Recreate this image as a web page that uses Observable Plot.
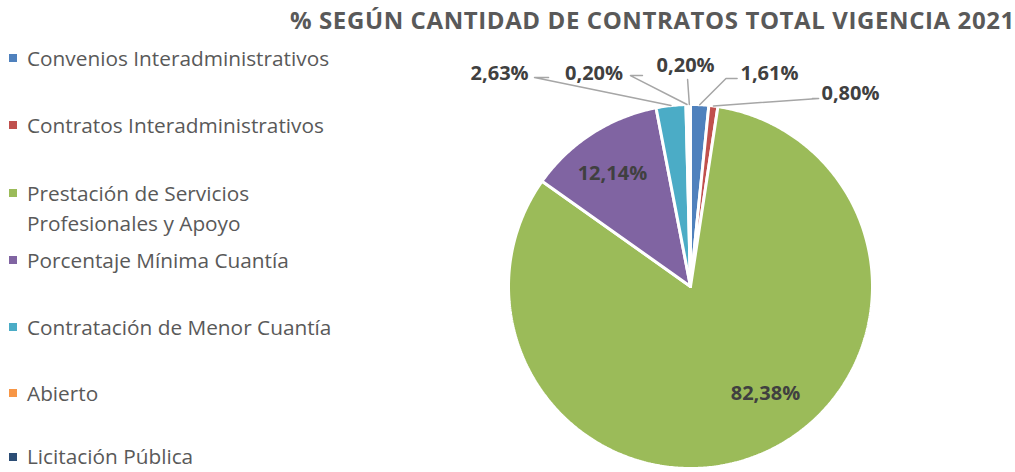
<!DOCTYPE html>
<html>
<head>
<meta charset="utf-8">
<script src="https://cdn.jsdelivr.net/npm/d3@7"></script>
<script src="https://cdn.jsdelivr.net/npm/@observablehq/plot@0.6"></script>
<style>
  html, body { margin: 0; padding: 0; background: #fff; }
  #wrap { position: relative; width: 1015px; height: 472px; overflow: hidden; font-family: "Open Sans", sans-serif; }
  #chart { position: absolute; left: 0; top: 0; }
  #title { position: absolute; left: 290px; top: 2px; font-weight: 700; font-size: 24px; color: #595959; white-space: nowrap; letter-spacing: 0.6px; line-height: 36px; }
  .leg { position: absolute; left: 9px; font-size: 20.8px; color: #595959; line-height: 30px; }
  .leg .sw { position: absolute; left: 0; top: 11px; width: 8px; height: 8px; }
  .leg .tx { margin-left: 18px; display: block; white-space: nowrap; }
  .leg.last { line-height: 22px; }
  .leg.last .sw { top: 8px; }
</style>
</head>
<body>
<div id="wrap">
  <div id="chart"></div>
  <div id="title">% SEGÚN CANTIDAD DE CONTRATOS TOTAL VIGENCIA 2021</div>
  <div id="legend"></div>
</div>
<script>
// ---- data ----
const categories = [
  "Convenios Interadministrativos",
  "Contratos Interadministrativos",
  "Prestación de Servicios Profesionales y Apoyo",
  "Porcentaje Mínima Cuantía",
  "Contratación de Menor Cuantía",
  "Abierto",
  "Licitación Pública"
];
const values = [1.61, 0.80, 82.38, 12.14, 2.63, 0.20, 0.20];
const valueLabels = ["1,61%", "0,80%", "82,38%", "12,14%", "2,63%", "0,20%", "0,20%"];
const colors = ["#4F81BD", "#C0504D", "#9BBB59", "#8064A2", "#4BACC6", "#F79646", "#2C4D75"];
const legendLines = [
  ["Convenios Interadministrativos"],
  ["Contratos Interadministrativos"],
  ["Prestación de Servicios", "Profesionales y Apoyo"],
  ["Porcentaje Mínima Cuantía"],
  ["Contratación de Menor Cuantía"],
  ["Abierto"],
  ["Licitación Pública"]
];

// ---- layout (label placement, in pie-radius units relative to centre) ----
const labelLayout = [
  {inside: false, lx: 0.434, ly: 1.170, ex: 0.256, ey: 1.143, hx: 0.195},
  {inside: false, lx: 0.879, ly: 1.060, ex: 0.670, ey: 1.033, hx: 0.704},
  {inside: true,  lx: 0.412, ly: -0.588},
  {inside: true,  lx: -0.429, ly: 0.621},
  {inside: false, lx: -1.049, ly: 1.170, ex: -0.780, ey: 1.148, hx: -0.857},
  {inside: false, lx: -0.530, ly: 1.170, ex: -0.264, ey: 1.159, hx: -0.330},
  {inside: false, lx: -0.027, ly: 1.215, ex: -0.016, ey: 1.137, hx: -0.016}
];

// ---- geometry from data ----
const rows = categories.map((c, i) => ({name: c, value: values[i], color: colors[i], label: valueLabels[i]}));
const arcs = d3.pie().sort(null).value(d => d.value)(rows);
const slicePts = [];
arcs.forEach((a, i) => {
  const name = rows[i].name;
  slicePts.push({name, x: 0, y: 0});
  const n = Math.max(2, Math.ceil((a.endAngle - a.startAngle) / 0.01));
  for (let k = 0; k <= n; k++) {
    const t = a.startAngle + (a.endAngle - a.startAngle) * k / n;
    slicePts.push({name, x: Math.sin(t), y: Math.cos(t)});
  }
  slicePts.push({name, x: 0, y: 0});
});

const leaderPts = [];
const labelPts = [];
arcs.forEach((a, i) => {
  const L = labelLayout[i];
  labelPts.push({x: L.lx, y: L.ly, text: rows[i].label});
  if (!L.inside) {
    const m = (a.startAngle + a.endAngle) / 2;
    leaderPts.push({id: i, x: Math.sin(m), y: Math.cos(m)});
    leaderPts.push({id: i, x: L.hx, y: L.ey});
    leaderPts.push({id: i, x: L.ex, y: L.ey});
  }
});

const plot = Plot.plot({
  width: 1015,
  height: 472,
  marginLeft: 508,
  marginRight: 143,
  marginTop: 104,
  marginBottom: 4,
  x: {domain: [-1, 1], axis: null},
  y: {domain: [-1, 1], axis: null},
  color: {domain: categories, range: colors},
  style: {background: "transparent", overflow: "visible"},
  marks: [
    Plot.line(slicePts, {x: "x", y: "y", z: "name", fill: "name", stroke: "white", strokeWidth: 3, strokeLinejoin: "miter", curve: "linear"}),
    Plot.line(leaderPts, {x: "x", y: "y", z: "id", stroke: "#A6A6A6", strokeWidth: 1.5, curve: "linear"}),
    Plot.text(labelPts, {x: "x", y: "y", text: "text", fontWeight: "bold", fontSize: 20, fill: "#404040", fontFamily: "Open Sans, sans-serif"})
  ]
});
document.getElementById("chart").appendChild(plot);

// ---- legend (HTML) ----
const legendTops = [43, 110, 178, 245, 312, 378, 445];
const leg = document.getElementById("legend");
legendLines.forEach((lines, i) => {
  const d = document.createElement("div");
  d.className = "leg" + (i === legendLines.length - 1 ? " last" : "");
  d.style.top = legendTops[i] + "px";
  const sw = document.createElement("span");
  sw.className = "sw";
  sw.style.background = colors[i];
  d.appendChild(sw);
  lines.forEach(l => {
    const t = document.createElement("span");
    t.className = "tx";
    t.textContent = l;
    d.appendChild(t);
  });
  leg.appendChild(d);
});
</script>
</body>
</html>
